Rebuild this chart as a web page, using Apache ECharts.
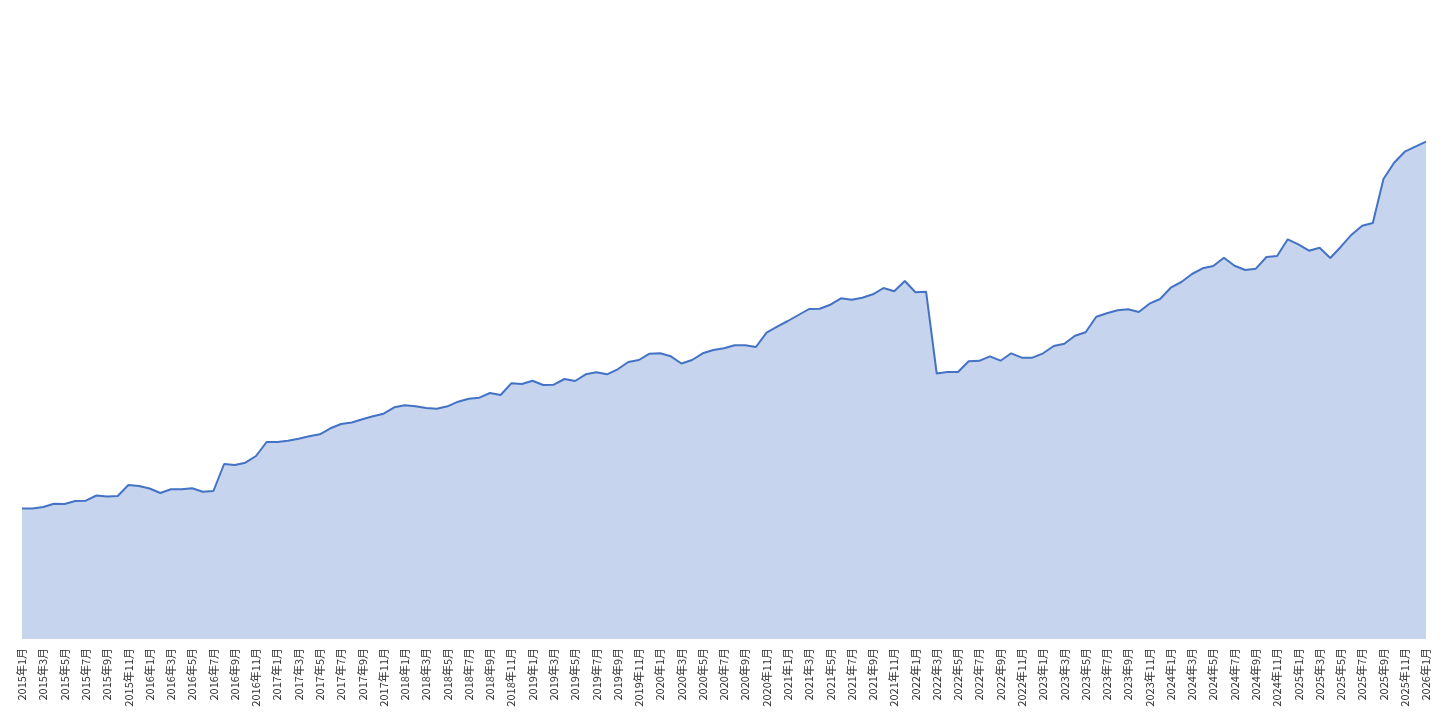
<!DOCTYPE html>
<html>
<head>
<meta charset="utf-8">
<script src="https://cdn.jsdelivr.net/npm/echarts@6/dist/echarts.min.js"></script>
<style>
html,body{margin:0;padding:0;background:#fff;}
#chart{width:1443px;height:721px;}
</style>
</head>
<body>
<div id="chart"></div>
<script>
const startYear = 2015;
const monthCount = 133;
const categories = [];
for (let i = 0; i < monthCount; i++) {
  const y = startYear + Math.floor(i / 12);
  const m = (i % 12) + 1;
  categories.push(y + '年' + m + '月');
}
const values = [
  130.5,130.5,132,135.3,135,138,138.3,143.5,142.5,143,154,153,
  150.5,146,149.7,149.7,150.7,147.3,148,175,174,176.3,183,197,
  197,198.3,200.3,202.7,204.7,210.7,215,216.5,219.7,222.7,225.3,231.7,
  233.7,232.7,231,230.3,232.7,237.3,240.3,241.3,246,244,255.7,255,
  258.3,254,254.3,260,258,264.7,266.7,264.7,269.7,277,279,285.3,
  285.7,282.7,275.5,279,285.7,289,290.7,293.7,293.7,292,306.3,312.3,
  318,324,330,330.3,334.3,340.7,339.3,341.3,344.7,351,347.7,358,
  346.7,347.3,265.5,267,267,277.8,278.2,282.7,278.3,285.7,281.3,281.3,
  285.7,293,295.3,303.3,306.7,322.3,325.7,328.7,329.7,327,335.3,340,
  351.3,357,365,370.7,373,381.3,373.3,369,370.3,382,383,399.7,
  394.7,388.3,391.3,381,392.3,404.3,413.3,416,460,476.3,487.3,492.3,
  497.3
];
const chart = echarts.init(document.getElementById('chart'), null, {renderer: 'canvas'});
chart.setOption({
  animation: false,
  grid: {left: 22, right: 17, top: 39, bottom: 82, containLabel: false},
  xAxis: {
    type: 'category',
    data: categories,
    boundaryGap: false,
    axisLine: {show: false},
    axisTick: {show: false},
    axisLabel: {
      interval: 1,
      rotate: 90,
      fontSize: 11,
      color: '#333',
      fontFamily: '"Noto Sans CJK JP", "Noto Sans CJK SC", sans-serif',
      margin: 9
    }
  },
  yAxis: {
    type: 'value',
    min: 0,
    max: 600,
    show: false,
    splitLine: {show: false}
  },
  series: [{
    type: 'line',
    data: values,
    showSymbol: false,
    symbol: 'none',
    lineStyle: {color: '#4472C4', width: 2},
    itemStyle: {color: '#4472C4'},
    areaStyle: {color: '#C6D4EE', opacity: 1}
  }]
});
</script>
</body>
</html>
